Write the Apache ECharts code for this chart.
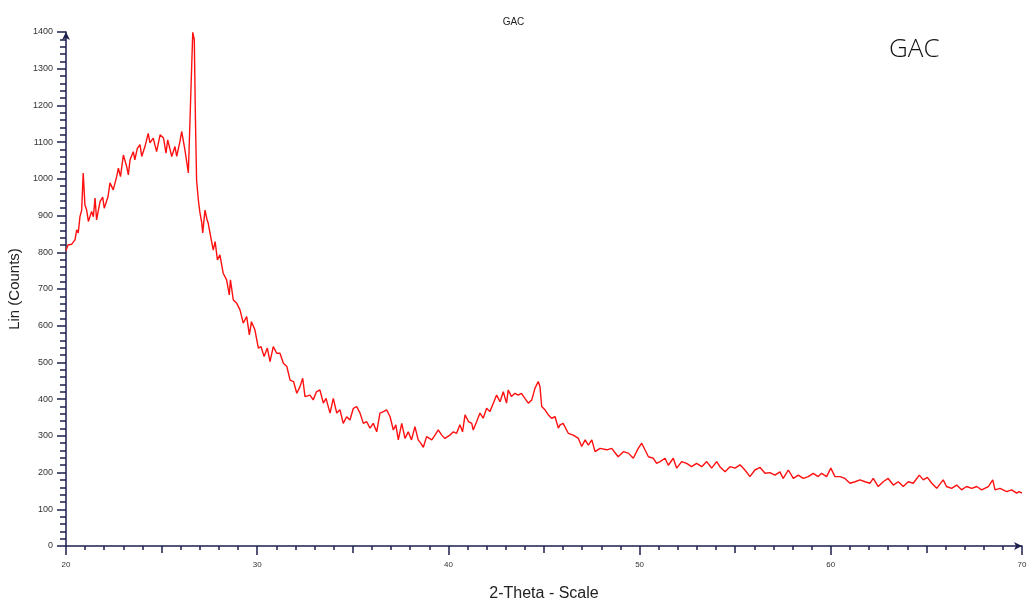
<!DOCTYPE html>
<html>
<head>
<meta charset="utf-8">
<script src="https://cdn.jsdelivr.net/npm/echarts@6/dist/echarts.min.js"></script>
<style>
  html, body { margin: 0; padding: 0; background: #fff; }
  #main { width: 1027px; height: 604px; }
</style>
</head>
<body>
<div id="main"></div>
<script>
// 2-theta positions (deg)
var twoTheta = [
  20.0, 20.1, 20.2, 20.3, 20.47, 20.56, 20.64, 20.73, 20.82, 20.9, 20.99, 21.08, 21.17, 21.34, 21.43, 21.52, 21.6, 21.78, 21.92, 22.0,
  22.2, 22.3, 22.47, 22.65, 22.74, 22.85, 23.0, 23.17, 23.26, 23.35, 23.52, 23.6, 23.73, 23.87, 23.96, 24.13, 24.3, 24.39, 24.56, 24.74,
  24.92, 25.1, 25.23, 25.32, 25.53, 25.7, 25.79, 25.96, 26.05, 26.22, 26.4, 26.54, 26.63, 26.71, 26.77, 26.83, 26.92, 27.0, 27.1, 27.15,
  27.27, 27.38, 27.44, 27.5, 27.7, 27.8, 27.92, 28.05, 28.22, 28.4, 28.54, 28.6, 28.75, 28.93, 29.1, 29.27, 29.45, 29.59, 29.7, 29.88,
  30.06, 30.2, 30.36, 30.53, 30.67, 30.84, 31.02, 31.19, 31.37, 31.55, 31.72, 31.9, 32.07, 32.24, 32.38, 32.5, 32.76, 32.93, 33.1, 33.28,
  33.46, 33.6, 33.81, 33.98, 34.16, 34.33, 34.5, 34.68, 34.85, 35.03, 35.2, 35.38, 35.55, 35.72, 35.9, 36.07, 36.25, 36.42, 36.6, 36.77,
  36.95, 37.12, 37.25, 37.38, 37.56, 37.73, 37.9, 38.07, 38.25, 38.42, 38.55, 38.69, 38.86, 39.13, 39.3, 39.47, 39.65, 39.82, 40.08, 40.26,
  40.43, 40.6, 40.74, 40.87, 41.05, 41.22, 41.3, 41.48, 41.65, 41.82, 42.0, 42.17, 42.35, 42.52, 42.7, 42.87, 43.04, 43.13, 43.3, 43.48,
  43.65, 43.82, 44.0, 44.18, 44.36, 44.53, 44.7, 44.79, 44.88, 45.05, 45.23, 45.4, 45.58, 45.75, 45.84, 46.0, 46.27, 46.53, 46.8, 46.97,
  47.15, 47.32, 47.5, 47.67, 47.93, 48.28, 48.54, 48.88, 49.15, 49.41, 49.67, 49.93, 50.11, 50.28, 50.46, 50.72, 50.89, 51.07, 51.33, 51.5,
  51.76, 51.94, 52.2, 52.46, 52.72, 52.98, 53.25, 53.51, 53.77, 54.03, 54.2, 54.47, 54.73, 54.99, 55.25, 55.51, 55.77, 56.03, 56.3, 56.56,
  56.82, 57.08, 57.34, 57.51, 57.78, 58.04, 58.3, 58.56, 58.82, 59.08, 59.34, 59.52, 59.78, 60.0, 60.22, 60.48, 60.74, 61.0, 61.27, 61.53,
  61.79, 62.05, 62.22, 62.48, 62.74, 63.0, 63.27, 63.53, 63.79, 64.05, 64.31, 64.63, 64.84, 65.05, 65.28, 65.54, 65.88, 66.05, 66.32, 66.58,
  66.84, 67.1, 67.37, 67.63, 67.89, 68.24, 68.47, 68.59, 68.85, 69.2, 69.46, 69.72, 69.85, 70.0
];

// Lin (Counts) at each position
var counts = [
  805, 820, 825, 822, 834, 861, 853, 897, 915, 1016, 929, 915, 884, 911, 897, 948, 888, 938, 950, 920,
  952, 989, 970, 1006, 1029, 1006, 1065, 1034, 1011, 1052, 1074, 1052, 1083, 1093, 1061, 1088, 1124, 1098, 1111, 1074,
  1120, 1111, 1070, 1106, 1061, 1088, 1061, 1102, 1129, 1079, 1016, 1252, 1399, 1379, 1161, 997, 943, 910, 880, 853,
  915, 888, 879, 861, 806, 829, 779, 793, 743, 725, 684, 725, 670, 661, 643, 607, 625, 575, 611, 589,
  539, 543, 516, 539, 502, 543, 525, 525, 498, 489, 452, 448, 416, 434, 457, 407, 411, 398, 420, 425,
  389, 402, 362, 402, 362, 371, 334, 352, 343, 375, 380, 362, 334, 339, 321, 334, 311, 362, 366, 371,
  352, 316, 330, 289, 334, 293, 311, 289, 325, 289, 280, 269, 298, 289, 302, 316, 302, 293, 302, 311,
  307, 330, 311, 357, 339, 334, 316, 339, 362, 348, 375, 366, 389, 411, 393, 420, 389, 425, 407, 416,
  411, 416, 402, 389, 398, 430, 448, 434, 380, 371, 357, 348, 352, 321, 330, 334, 307, 302, 293, 271,
  289, 275, 289, 257, 266, 262, 266, 243, 257, 253, 239, 266, 280, 262, 243, 239, 225, 230, 239, 220,
  239, 212, 230, 225, 216, 225, 216, 230, 212, 230, 216, 202, 216, 212, 221, 207, 189, 207, 214, 198,
  200, 193, 202, 184, 207, 184, 193, 184, 189, 198, 189, 198, 189, 212, 189, 189, 184, 171, 175, 180,
  175, 171, 184, 162, 175, 184, 166, 175, 162, 175, 171, 193, 180, 187, 171, 157, 180, 162, 157, 166,
  153, 162, 157, 162, 153, 162, 180, 153, 157, 148, 153, 144, 148, 144
];

var axisColor = '#1c1f4e';

var points = twoTheta.map(function (t, i) { return [t, counts[i]]; });

var mychart = echarts.init(document.getElementById('main'));

var option = {
    backgroundColor: '#fff',
    animation: false,
    title: {
        text: 'GAC',
        left: 'center',
        top: 12,
        textStyle: {
            fontFamily: 'Liberation Sans',
            fontSize: 10,
            fontWeight: 'normal',
            color: '#222'
        }
    },
    graphic: [
        {
            type: 'text',
            left: 889,
            top: 37,
            style: {
                text: 'GAC',
                fontFamily: 'Open Sans',
                fontWeight: 300,
                fontSize: 26,
                fill: '#111'
            }
        }
    ],
    grid: {
        left: 66,
        right: 5,
        top: 32,
        bottom: 58,
        containLabel: false,
        outerBoundsMode: 'none'
    },
    xAxis: [
        {
            type: 'value',
            min: 20,
            max: 70,
            interval: 10,
            name: '2-Theta - Scale',
            nameLocation: 'middle',
            nameGap: 40,
            nameTextStyle: {
                fontFamily: 'Liberation Sans',
                fontSize: 16,
                color: '#222'
            },
            axisLine: {
                show: true,
                symbol: ['none', 'arrow'],
                symbolSize: [6, 8],
                lineStyle: { color: axisColor, width: 1.5 }
            },
            axisTick: { show: true, length: 9, lineStyle: { color: axisColor, width: 1.5 } },
            minorTick: { show: true, splitNumber: 10, length: 4, lineStyle: { color: axisColor, width: 1.5 } },
            axisLabel: {
                margin: 15,
                fontFamily: 'Liberation Sans',
                fontSize: 8,
                color: '#333'
            },
            splitLine: { show: false }
        },
        {
            // medium ticks at the 5s
            type: 'value',
            min: 20,
            max: 70,
            interval: 5,
            position: 'bottom',
            axisLine: { show: false },
            axisTick: { show: true, length: 7, lineStyle: { color: axisColor, width: 1.5 } },
            axisLabel: { show: false },
            splitLine: { show: false }
        }
    ],
    yAxis: {
        type: 'value',
        min: 0,
        max: 1400,
        interval: 100,
        name: 'Lin (Counts)',
        nameLocation: 'middle',
        nameGap: 42,
        nameTextStyle: {
            fontFamily: 'Liberation Sans',
            fontSize: 15,
            color: '#222'
        },
        axisLine: {
            show: true,
            symbol: ['none', 'arrow'],
            symbolSize: [6, 8],
            lineStyle: { color: axisColor, width: 1.5 }
        },
        axisTick: { show: true, length: 9, lineStyle: { color: axisColor, width: 1.5 } },
        minorTick: { show: true, splitNumber: 5, length: 6, lineStyle: { color: axisColor, width: 1.5 } },
        axisLabel: {
            margin: 13,
            formatter: function (v) { return String(v); },
            fontFamily: 'Liberation Sans',
            fontSize: 9,
            color: '#333'
        },
        splitLine: { show: false }
    },
    series: [
        {
            name: 'GAC',
            type: 'line',
            data: points,
            showSymbol: false,
            symbol: 'none',
            lineStyle: { color: '#ff1010', width: 1.4 }
        }
    ]
};
mychart.setOption(option);
</script>
</body>
</html>
